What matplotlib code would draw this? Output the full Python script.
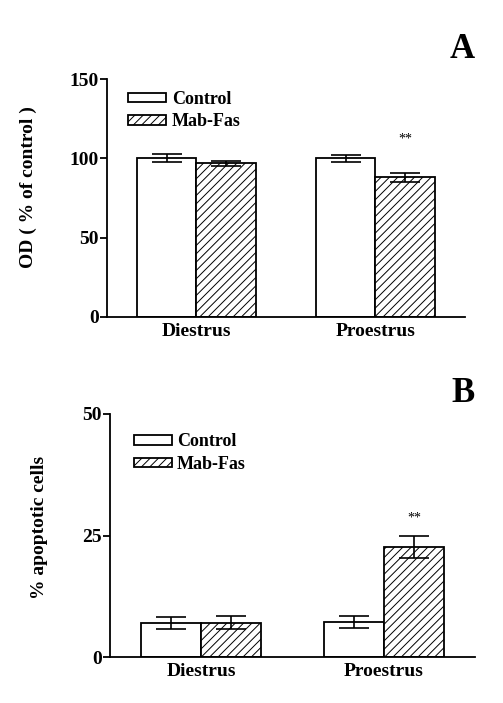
"""
OD and apoptosis bar charts, Control vs Mab-Fas
"""

import numpy as np
import matplotlib
matplotlib.use('Agg')
import matplotlib.pyplot as plt

plt.rcParams['font.family'] = ['Liberation Serif', 'DejaVu Serif']
plt.rcParams['font.weight'] = 'bold'
plt.rcParams['hatch.color'] = '#555555'
plt.rcParams['hatch.linewidth'] = 0.7

phases = ['Diestrus', 'Proestrus']
groups = ['Control', 'Mab-Fas']

od_control = [100.0, 100.0]
od_control_err = [2.6, 2.0]
od_mabfas = [96.8, 88.0]
od_mabfas_err = [1.8, 3.0]
od_sig = ['', '**']

apo_control = [7.0, 7.2]
apo_control_err = [1.2, 1.2]
apo_mabfas = [7.1, 22.6]
apo_mabfas_err = [1.3, 2.2]
apo_sig = ['', '**']


def bar_panel(ax, ctrl, ctrl_err, mab, mab_err, sig, ymax, yticks, ylabel,
              label_xy, legend_xy, sig_offset):
    x = np.arange(len(phases))
    w = 0.33
    ax.bar(x - w / 2, ctrl, w, color='white', edgecolor='black',
           linewidth=1.3, label=groups[0], zorder=2)
    ax.bar(x + w / 2, mab, w, color='white', edgecolor='black',
           linewidth=1.3, hatch='////', label=groups[1], zorder=2)
    ax.errorbar(x - w / 2, ctrl, yerr=ctrl_err, fmt='none', ecolor='black',
                elinewidth=1.2, capsize=11, capthick=1.2, zorder=3)
    ax.errorbar(x + w / 2, mab, yerr=mab_err, fmt='none', ecolor='black',
                elinewidth=1.2, capsize=11, capthick=1.2, zorder=3)
    for i, s in enumerate(sig):
        if s:
            ax.text(x[i] + w / 2, mab[i] + mab_err[i] + sig_offset, s,
                    ha='center', va='bottom', fontsize=10, fontweight='normal')

    ax.set_xlim(-0.5, 1.5)
    ax.set_ylim(0, ymax)
    ax.set_yticks(yticks)
    ax.set_xticks(x)
    ax.set_xticklabels(phases)
    ax.tick_params(axis='x', length=0, pad=4, labelsize=14)
    ax.tick_params(axis='y', length=5, width=1.3, direction='out', labelsize=14, pad=1)
    ax.spines['top'].set_visible(False)
    ax.spines['right'].set_visible(False)
    ax.spines['left'].set_linewidth(1.3)
    ax.spines['bottom'].set_linewidth(1.3)
    ax.set_ylabel(ylabel, fontsize=14, fontweight='bold')
    ax.yaxis.set_label_coords(*label_xy)

    ax.legend(loc='upper left', bbox_to_anchor=legend_xy, frameon=False,
              fontsize=13, handlelength=2.1, handleheight=0.45,
              handletextpad=0.3, labelspacing=0.3, borderaxespad=0,
              borderpad=0)


fig = plt.figure(figsize=(5.03, 7.03), dpi=100)
ax1 = fig.add_axes([0.2127, 0.5491, 0.7117, 0.3385])
ax2 = fig.add_axes([0.2187, 0.0654, 0.7256, 0.3457])

bar_panel(ax1, od_control, od_control_err, od_mabfas, od_mabfas_err, od_sig,
          150, [0, 50, 100, 150], 'OD ( % of control )',
          (-0.196, 0.546), (0.06, 0.95), 17)
bar_panel(ax2, apo_control, apo_control_err, apo_mabfas, apo_mabfas_err, apo_sig,
          50, [0, 25, 50], '% apoptotic cells',
          (-0.171, 0.535), (0.065, 0.92), 2.5)

fig.text(462 / 503, 1 - 50 / 703, 'A', ha='center', va='center',
         fontsize=25, fontweight='bold')
fig.text(463 / 503, 1 - 394 / 703, 'B', ha='center', va='center',
         fontsize=25, fontweight='bold')

fig.savefig('out.png', dpi=100)
